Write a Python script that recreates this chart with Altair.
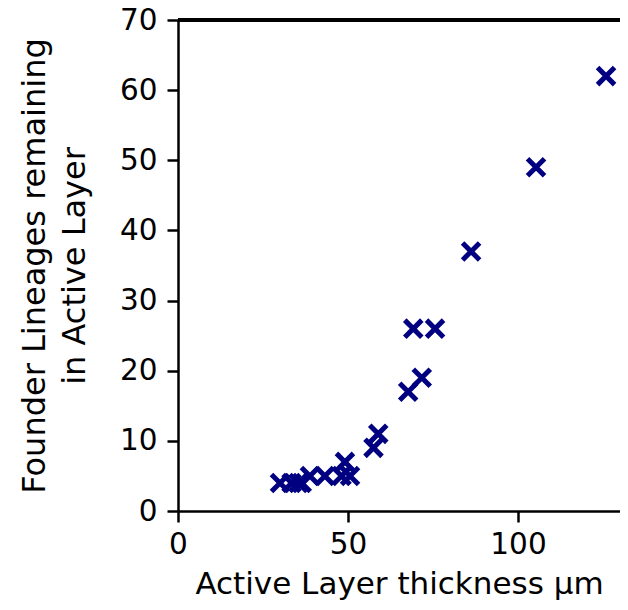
import altair as alt
import pandas as pd

thickness = [30.0, 33.4, 35.4, 36.4, 38.8, 43.2, 48.1, 50.6, 49.1, 57.5, 58.9,
             67.7, 71.7, 69.2, 75.6, 86.2, 105.3, 125.9]
lineages = [4, 4, 4, 4, 5, 5, 5, 5, 7, 9, 11, 17, 19, 26, 26, 37, 49, 62]

x_ticks = [0, 50, 100]
y_ticks = [0, 10, 20, 30, 40, 50, 60, 70]

df = pd.DataFrame({"thickness": thickness, "lineages": lineages})

W, H = 442, 491
FONT = "DejaVu Sans"

points = alt.Chart(df).mark_point(
    shape="M-1,-1L1,1M-1,1L1,-1",
    filled=False,
    color="#000080",
    strokeWidth=5,
    size=290,
    opacity=1,
).encode(
    x=alt.X("thickness:Q",
            scale=alt.Scale(domain=[0, 130], nice=False, zero=False),
            axis=alt.Axis(values=x_ticks, title="Active Layer thickness μm",
                          grid=False, labelPadding=8, titlePadding=11)),
    y=alt.Y("lineages:Q",
            scale=alt.Scale(domain=[0, 70], nice=False),
            axis=alt.Axis(values=y_ticks,
                          title=["Founder Lineages remaining", "in Active Layer"],
                          titleFontSize=32,
                          grid=False, labelPadding=10, titlePadding=28)),
)

top_rule = alt.Chart(df).mark_rule(color="black", strokeWidth=3).encode(
    x=alt.value(0), x2=alt.value(W), y=alt.value(0)
)

chart = alt.layer(top_rule, points).properties(
    width=W, height=H,
    autosize=alt.AutoSizeParams(type="none"),
    padding={"left": 170, "top": 12, "right": 0, "bottom": 91},
).configure_view(stroke=None).configure_axis(
    labelFont=FONT, titleFont=FONT, labelFontSize=29.5, titleFontSize=31,
    titleFontWeight="normal", labelColor="black", titleColor="black",
    domainColor="black", tickColor="black", domainWidth=2.5, tickWidth=2.5,
    tickSize=11, labelFlush=False, titleLineHeight=40,
)

chart.save("out.html", embed_options={"renderer": "svg", "actions": False})
